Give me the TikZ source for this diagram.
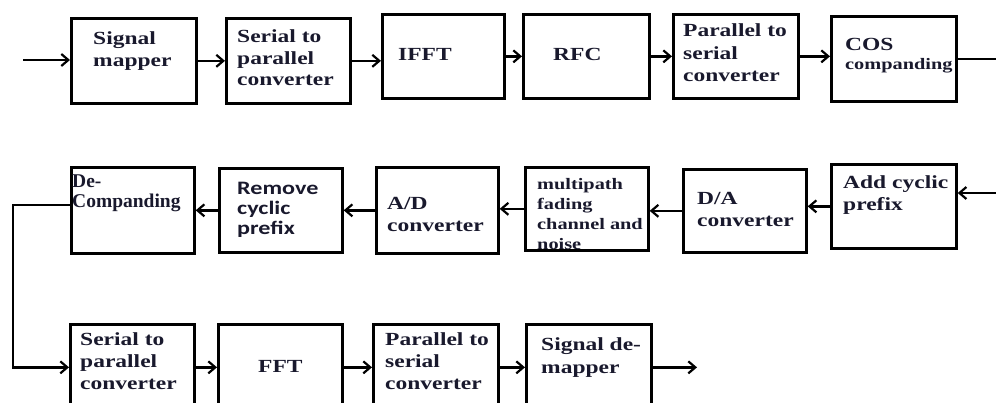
\documentclass[tikz,border=0pt]{standalone}
\usepackage{fontspec}
\setmainfont{Liberation Serif}[FakeStretch=1.27]
\newfontfamily\plainserif{Liberation Serif}
\newfontfamily\calfont{Carlito}[FakeStretch=1.27]
\usetikzlibrary{arrows.meta}
\definecolor{ink}{RGB}{25,25,45}
\newcommand\mytxt[3]{{\fontsize{#1}{#2}\selectfont\begin{tabular}[t]{@{}l@{}}#3\end{tabular}}}
\begin{document}
\begin{tikzpicture}[x=1pt,y=-1pt,
  blk/.style={draw, line width=2.7pt, anchor=north west, inner sep=0pt},
  txt/.style={anchor=base west, inner sep=0pt, text=ink, font=\bfseries},
  ln/.style={line width=2.4pt},
  arr/.style={line width=2.4pt, -{Straight Barb[length=7pt,width=12pt,line width=2.2pt]}}]
\useasboundingbox (0,0) rectangle (996,403);
\clip (0,0) rectangle (996,403);
% top row
\node[blk, minimum width=125pt, minimum height=85pt] (sm) at (70,17) {};
\node[blk, minimum width=124pt, minimum height=85pt] (sp) at (225,17) {};
\node[blk, minimum width=122pt, minimum height=84pt] (ifft) at (381,13) {};
\node[blk, minimum width=126pt, minimum height=84pt] (rfc) at (522,13) {};
\node[blk, minimum width=125pt, minimum height=84pt] (ps) at (672,13) {};
\node[blk, minimum width=125pt, minimum height=85pt] (cos) at (830,15) {};
% middle row
\node[blk, minimum width=123pt, minimum height=86pt] (dc) at (70,166) {};
\node[blk, minimum width=123pt, minimum height=84pt] (rc) at (218,167) {};
\node[blk, minimum width=122pt, minimum height=86pt] (ad) at (375,166) {};
\node[blk, minimum width=123pt, minimum height=83pt] (mp) at (524,166) {};
\node[blk, minimum width=123pt, minimum height=83pt] (da) at (682,168) {};
\node[blk, minimum width=125pt, minimum height=84pt] (ac) at (830,163) {};
% bottom row
\node[blk, minimum width=124pt, minimum height=86pt] (bsp) at (69,323) {};
\node[blk, minimum width=124pt, minimum height=86pt] (fft) at (217,323) {};
\node[blk, minimum width=125pt, minimum height=86pt] (bps) at (372,323) {};
\node[blk, minimum width=125pt, minimum height=86pt] (sdm) at (525,323) {};
% texts
\node[txt] (tsm) at (93,45) {\mytxt{18.5}{22}{Signal\\mapper}};
\node[txt] (tsp) at (237,43) {\mytxt{18.5}{21.5}{Serial to\\parallel\\converter}};
\node[txt] (tifft) at (398,61) {\mytxt{18.5}{21.5}{IFFT}};
\node[txt] (trfc) at (553,61) {\mytxt{18.5}{21.5}{RFC}};
\node[txt] (tps) at (683,37) {\mytxt{18.5}{22.5}{Parallel to\\serial\\converter}};
\node[txt] (tcos) at (845,51) {\mytxt{18.5}{21.5}{COS\\[-2.5pt]{\fontsize{16}{19}\selectfont companding}}};
\node[txt, font=\plainserif\bfseries] (tdc) at (72,188) {\mytxt{19.5}{20}{De-\\Companding}};
\node[txt, font=\calfont\bfseries] (trc) at (237,195) {\mytxt{19}{20}{Remove\\cyclic\\prefix}};
\node[txt] (tad) at (387,210) {\mytxt{18.5}{22}{A/D\\converter}};
\node[txt] (tmp) at (537,190) {\mytxt{16}{20}{multipath\\fading\\channel and\\noise}};
\node[txt] (tda) at (697,205) {\mytxt{18.5}{22}{D/A\\converter}};
\node[txt] (tac) at (843,189) {\mytxt{18.5}{22}{Add cyclic\\prefix}};
\node[txt] (tbsp) at (80,345) {\mytxt{18.5}{22}{Serial to\\parallel\\converter}};
\node[txt] (tfft) at (258,372) {\mytxt{18.5}{22}{FFT}};
\node[txt] (tbps) at (385,345) {\mytxt{18.5}{22}{Parallel to\\serial\\converter}};
\node[txt] (tsdm) at (541,351) {\mytxt{18.5}{22}{Signal de-\\mapper}};
% connectors
\coordinate (in) at (23,60);
\draw[arr] (in) -- (in -| sm.west);
\draw[arr] (sm.east) -- (sm.east -| sp.west);
\draw[arr] (sp.east) -- (sp.east -| ifft.west);
\draw[arr] (ifft.east) -- (ifft.east -| rfc.west);
\draw[arr] (rfc.east) -- (rfc.east -| ps.west);
\draw[arr] (ps.east) -- (ps.east -| cos.west);
\coordinate (outT) at (996,58);
\draw[ln] (cos.east) -- (cos.east -| outT);
\coordinate (inR) at (996,193);
\draw[arr] (inR) -- (inR -| ac.east);
\draw[arr] (ac.west) -- (ac.west -| da.east);
\draw[arr] (da.west) -- (da.west -| mp.east);
\draw[arr] (mp.west) -- (mp.west -| ad.east);
\draw[arr] (ad.west) -- (ad.west -| rc.east);
\draw[arr] (rc.west) -- (rc.west -| dc.east);
\coordinate (fb) at (13,205);
\draw[arr] (fb -| dc.west) -- (fb) |- (bsp.west);
\draw[arr] (bsp.east) -- (bsp.east -| fft.west);
\draw[arr] (fft.east) -- (fft.east -| bps.west);
\draw[arr] (bps.east) -- (bps.east -| sdm.west);
\coordinate (outB) at (697,362);
\draw[arr] (sdm.east) -- (sdm.east -| outB);
\end{tikzpicture}
\end{document}
